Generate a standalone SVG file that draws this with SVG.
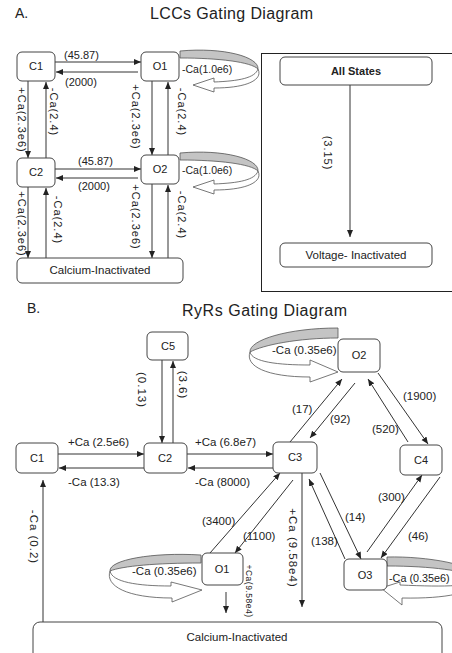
<svg xmlns="http://www.w3.org/2000/svg" width="452" height="653" viewBox="0 0 452 653">
<defs>
<style>
text{font-family:"Liberation Sans",Arial,sans-serif;fill:#222}
.ttl{font-size:16px}
.hd{font-size:14px}
.nd{font-size:11px;text-anchor:middle}
.la{font-size:11px}
.lb{font-size:11.5px}
.rot{letter-spacing:1px;text-anchor:middle;dominant-baseline:central}
.box{fill:#fff;stroke:#444;stroke-width:1}
.ln{stroke:#333;stroke-width:1;fill:none;marker-end:url(#ah)}
.gb{fill:#c4c4c4;stroke:#555;stroke-width:0.8}
.wb{fill:#fff;stroke:#555;stroke-width:0.8}
</style>
<marker id="ah" markerWidth="8" markerHeight="8" refX="7" refY="3" orient="auto" markerUnits="userSpaceOnUse"><path d="M0,0 L7,3 L0,6 z" fill="#222"/></marker>
<g id="loopR"><path class="gb" d="M1,0 C45,-4 80,6 79,18 C72,11 40,7 1,7 Z"/><path class="wb" d="M79,18 C76,27 60,30 35,31 L35,27 L14,34 L35,41 L35,37 C70,37 84,28 79,18 Z"/></g>
</defs>
<rect width="452" height="653" fill="#fff"/>

<!-- Section A -->
<text class="hd" x="15" y="18">A.</text>
<text class="ttl" x="150" y="19" textLength="163">LCCs Gating Diagram</text>

<g id="connectorsA">
<line class="ln" x1="55" y1="62" x2="141" y2="62"/>
<line class="ln" x1="138" y1="72" x2="56" y2="72"/>
<line class="ln" x1="28" y1="81" x2="28" y2="158"/>
<line class="ln" x1="46" y1="158" x2="46" y2="82"/>
<line class="ln" x1="152" y1="81" x2="152" y2="155"/>
<line class="ln" x1="168" y1="155" x2="168" y2="82"/>
<line class="ln" x1="55" y1="169" x2="141" y2="169"/>
<line class="ln" x1="138" y1="178" x2="56" y2="178"/>
<line class="ln" x1="28" y1="187" x2="28" y2="258"/>
<line class="ln" x1="46" y1="258" x2="46" y2="188"/>
<line class="ln" x1="152" y1="184" x2="152" y2="258"/>
<line class="ln" x1="168" y1="258" x2="168" y2="185"/>
<line class="ln" x1="350" y1="85" x2="350" y2="237"/>
<text class="la" x="64" y="59">(45.87)</text>
<text class="la" x="65" y="86">(2000)</text>
<text class="la" x="78" y="165">(45.87)</text>
<text class="la" x="78" y="190">(2000)</text>
<text class="la rot" transform="translate(22,120) rotate(90)">+Ca(2.3e6)</text>
<text class="la rot" transform="translate(54,112) rotate(90)">-Ca(2.4)</text>
<text class="la rot" transform="translate(136,117) rotate(90)">+Ca(2.3e6)</text>
<text class="la rot" transform="translate(182,112) rotate(90)">-Ca(2.4)</text>
<text class="la rot" transform="translate(22,224) rotate(90)">+Ca(2.3e6)</text>
<text class="la rot" transform="translate(58,220) rotate(90)">-Ca(2.4)</text>
<text class="la rot" transform="translate(136,217) rotate(90)">+Ca(2.3e6)</text>
<text class="la rot" transform="translate(182,215) rotate(90)">-Ca(2.4)</text>
<text class="la rot" transform="translate(328,153) rotate(90)">(3.15)</text>
</g>

<g id="A-C1"><rect class="box" x="17" y="52" width="38" height="29" rx="5"/><text class="nd" x="36" y="70">C1</text></g>
<g id="A-O1"><use href="#loopR" transform="translate(179,51)"/><rect class="box" x="141" y="52" width="38" height="29" rx="5"/><text class="nd" x="160" y="70">O1</text><text class="la" x="182" y="73" style="font-size:10.5px">-Ca(1.0e6)</text></g>
<g id="A-C2"><rect class="box" x="17" y="158" width="38" height="29" rx="5"/><text class="nd" x="36" y="176">C2</text></g>
<g id="A-O2"><use href="#loopR" transform="translate(179,153)"/><rect class="box" x="141" y="155" width="38" height="29" rx="5"/><text class="nd" x="160" y="173">O2</text><text class="la" x="182" y="174" style="font-size:10.5px">-Ca(1.0e6)</text></g>
<g id="A-CaInact"><rect class="box" x="17" y="258" width="166" height="25" rx="5"/><text class="nd" x="100" y="274" style="font-size:11.5px">Calcium-Inactivated</text></g>
<g id="A-panel"><rect x="261.5" y="53.5" width="200" height="238" fill="none" stroke="#222" stroke-width="1"/></g>
<g id="A-AllStates"><rect class="box" x="280" y="57" width="152" height="28" rx="5"/><text class="nd" x="356" y="75" style="font-weight:bold">All States</text></g>
<g id="A-VoltInact"><rect class="box" x="280" y="243" width="152" height="24" rx="5"/><text class="nd" x="356" y="259" style="font-size:11.5px">Voltage- Inactivated</text></g>

<!-- Section B -->
<text class="hd" x="27" y="313">B.</text>
<text class="ttl" x="182" y="316" textLength="165">RyRs Gating Diagram</text>

<g id="connectorsB">
<line class="ln" x1="162" y1="360" x2="162" y2="443"/>
<line class="ln" x1="173" y1="443" x2="173" y2="361"/>
<line class="ln" x1="58" y1="454" x2="144" y2="454"/>
<line class="ln" x1="144" y1="468" x2="59" y2="468"/>
<line class="ln" x1="187" y1="454" x2="273" y2="454"/>
<line class="ln" x1="273" y1="468" x2="188" y2="468"/>
<line class="ln" x1="43" y1="622" x2="43" y2="480"/>
<line class="ln" x1="290" y1="442" x2="342" y2="379"/>
<line class="ln" x1="355" y1="383" x2="310" y2="438"/>
<line class="ln" x1="378" y1="373" x2="428" y2="444"/>
<line class="ln" x1="408" y1="442" x2="368" y2="379"/>
<line class="ln" x1="210" y1="553" x2="280" y2="473"/>
<line class="ln" x1="293" y1="480" x2="235" y2="553"/>
<line class="ln" x1="302" y1="473" x2="302" y2="607"/>
<line class="ln" x1="345" y1="559" x2="309" y2="479"/>
<line class="ln" x1="320" y1="473" x2="361" y2="559"/>
<line class="ln" x1="367" y1="552" x2="422" y2="475"/>
<line class="ln" x1="440" y1="477" x2="381" y2="558"/>
<line class="ln" x1="226" y1="592" x2="226" y2="613"/>
<text class="lb" x="68" y="446">+Ca (2.5e6)</text>
<text class="lb" x="68" y="486">-Ca (13.3)</text>
<text class="lb" x="195" y="446">+Ca (6.8e7)</text>
<text class="lb" x="195" y="486">-Ca (8000)</text>
<text class="lb" x="292" y="413">(17)</text>
<text class="lb" x="330" y="423">(92)</text>
<text class="lb" x="403" y="400">(1900)</text>
<text class="lb" x="372" y="433">(520)</text>
<text class="lb" x="202" y="525">(3400)</text>
<text class="lb" x="243" y="540">(1100)</text>
<text class="lb" x="311" y="545">(138)</text>
<text class="lb" x="345" y="521">(14)</text>
<text class="lb" x="378" y="501">(300)</text>
<text class="lb" x="408" y="540">(46)</text>
<text class="lb rot" transform="translate(142,390) rotate(90)">(0.13)</text>
<text class="lb rot" transform="translate(183,385) rotate(90)">(3.6)</text>
<text class="lb rot" transform="translate(34,537) rotate(90)">-Ca (0.2)</text>
<text class="lb rot" transform="translate(293,548) rotate(90)">+Ca (9.58e4)</text>
<text class="rot" transform="translate(249,591) rotate(90)" style="font-size:8.5px;letter-spacing:0.5px">+Ca(9.58e4)</text>
</g>

<g id="B-C5"><rect class="box" x="147" y="332" width="41" height="28" rx="5"/><text class="nd" x="168" y="350">C5</text></g>
<g id="B-C1"><rect class="box" x="16" y="443" width="42" height="30" rx="5"/><text class="nd" x="37" y="462">C1</text></g>
<g id="B-C2"><rect class="box" x="144" y="443" width="43" height="30" rx="5"/><text class="nd" x="165" y="462">C2</text></g>
<g id="B-C3"><rect class="box" x="273" y="442" width="44" height="31" rx="5"/><text class="nd" x="295" y="461">C3</text></g>
<g id="B-O2"><g transform="translate(338,328)"><path class="gb" d="M0,0 C-50,0 -89,12 -88,24 C-75,17 -40,10 0,10 Z"/><path class="wb" d="M-88,24 C-86,34 -60,37 -28,37 L-28,32 L0,44 L-28,54 L-28,49 C-72,49 -93,38 -88,24 Z"/></g><rect class="box" x="338" y="339" width="42" height="33" rx="5"/><text class="nd" x="359" y="359">O2</text><text class="lb" x="272" y="354">-Ca (0.35e6)</text></g>
<g id="B-C4"><rect class="box" x="400" y="445" width="42" height="30" rx="5"/><text class="nd" x="421" y="464">C4</text></g>
<g id="B-O1"><g transform="translate(202,554)"><path class="gb" d="M-1,1 C-50,-2 -93,6 -92,17 C-80,12 -45,9 -1,9 Z"/><path class="wb" d="M-92,17 C-90,28 -65,32 -31,32 L-31,28 L0,36 L-30,48 L-30,44 C-75,44 -97,32 -92,17 Z"/></g><rect class="box" x="202" y="553" width="41" height="32" rx="5"/><text class="nd" x="222" y="573">O1</text><text class="lb" x="132" y="575">-Ca (0.35e6)</text></g>
<g id="B-O3"><g transform="translate(387,557)"><path class="gb" d="M0,0 C40,-1 90,8 90,20 C78,14 45,9 0,9 Z"/><path class="wb" d="M90,20 C88,30 60,30 13,28 L13,25 L-6,31 L15,48 L15,41 C65,42 95,34 90,20 Z"/></g><rect class="box" x="344" y="559" width="43" height="31" rx="5"/><text class="nd" x="365" y="579">O3</text><text x="389" y="582" style="font-size:10.8px">-Ca (0.35e6)</text></g>
<g id="B-CaInact"><rect class="box" x="33" y="622" width="409" height="45" rx="7"/><text class="nd" x="237" y="641" style="font-size:11.5px">Calcium-Inactivated</text></g>
</svg>
